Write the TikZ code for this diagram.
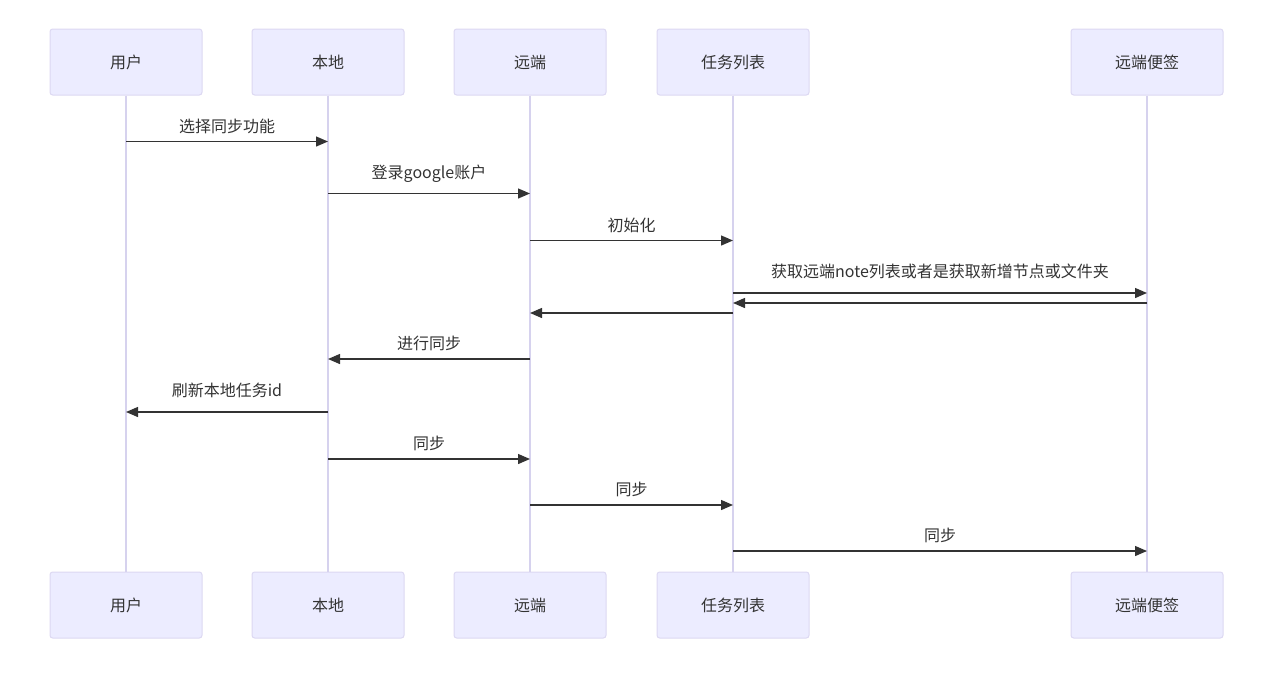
\documentclass[tikz,border=0pt]{standalone}
\usepackage{fontspec}
\setmainfont{Noto Sans CJK SC}
\usetikzlibrary{arrows.meta}
\definecolor{boxfill}{HTML}{ECECFF}
\definecolor{boxline}{HTML}{DCD8F2}
\definecolor{lifeline}{HTML}{D6D2EE}
\definecolor{ink}{HTML}{333333}
\begin{document}
\begin{tikzpicture}[x=0.75pt,y=-0.75pt,
  actor/.style={draw=boxline,fill=boxfill,line width=0.75pt,rounded corners=2pt,minimum width=114pt,minimum height=49.5pt,inner sep=0pt,font=\fontsize{12pt}{14pt}\selectfont,text=ink},
  life/.style={draw=lifeline,line width=1pt},
  msg/.style={draw=ink,line width=1pt,-{Triangle[length=9pt,width=7.5pt]}},
  lbl/.style={font=\fontsize{12pt}{14pt}\selectfont,text=ink,inner sep=0pt,anchor=base,midway,yshift=7.1pt},
  lbll/.style={lbl,yshift=4.5pt}]
\useasboundingbox (0,0) rectangle (1267,672);
% actors
\foreach \n/\x/\t in {u/126/用户,l/328/本地,r/530/远端,t/733/任务列表,n/1147/远端便签}{
  \node[actor] (\n top) at (\x,62) {\t};
  \node[actor] (\n bot) at (\x,605) {\t};
  \draw[life] (\n top.south) -- (\n bot.north);
}
% message anchors
\foreach \n/\x in {u/126,l/328,r/530,t/733,n/1147}{
  \foreach \k/\y in {1/141.5,2/193.5,3/240.5,4/293,5/303,6/313,7/359,8/412,9/459,10/505,11/551}{
    \coordinate (\n\k) at (\x,\y);
  }
}
\draw[msg] (u1) -- (l1) node[lbl] {选择同步功能};
\draw[msg] (l2) -- (r2) node[lbll] {登录google账户};
\draw[msg] (r3) -- (t3) node[lbl] {初始化};
\draw[msg] (t4) -- (n4) node[lbll] {获取远端note列表或者是获取新增节点或文件夹};
\draw[msg] (n5) -- (t5);
\draw[msg] (t6) -- (r6);
\draw[msg] (r7) -- (l7) node[lbl] {进行同步};
\draw[msg] (l8) -- (u8) node[lbll] {刷新本地任务id};
\draw[msg] (l9) -- (r9) node[lbl] {同步};
\draw[msg] (r10) -- (t10) node[lbl] {同步};
\draw[msg] (t11) -- (n11) node[lbl] {同步};
\end{tikzpicture}
\end{document}
